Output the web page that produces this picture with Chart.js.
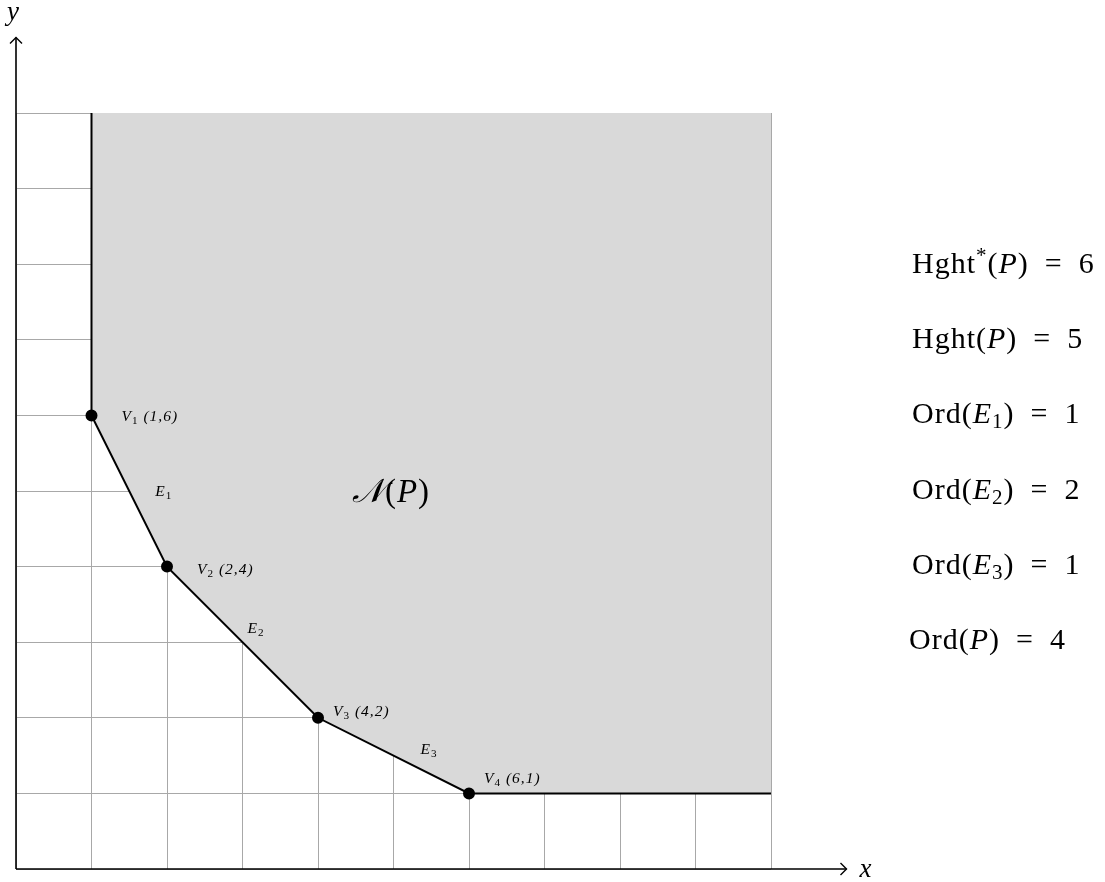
<!DOCTYPE html>
<html>
<head>
<meta charset="utf-8">
<script src="https://cdn.jsdelivr.net/npm/chart.js@4.4.1/dist/chart.umd.min.js"></script>
<style>
  html, body { margin: 0; padding: 0; background: #fff; }
  #wrap { width: 1105px; height: 882px; }
</style>
</head>
<body>
<div id="wrap"><canvas id="newton"></canvas></div>
<script>
// Newton polygon data
const boundaryX = [1, 1, 2, 4, 6, 10];
const boundaryY = [10, 6, 4, 2, 1, 1];
const vertexX = [1, 2, 4, 6];
const vertexY = [6, 4, 2, 1];
const vertexIdx = ['1', '2', '3', '4'];
const edgeIdx = ['1', '2', '3'];
const gridTicks = [0, 1, 2, 3, 4, 5, 6, 7, 8, 9, 10];
const axisEnd = 11;

const statLeft = ['Hght', 'Hght', 'Ord', 'Ord', 'Ord', 'Ord'];
const statStar = [true, false, false, false, false, false];
const statArg = ['P', 'P', 'E', 'E', 'E', 'P'];
const statSub = ['', '', '1', '2', '3', ''];
const statValue = [6, 5, 1, 2, 1, 4];

const SERIF = '"Liberation Serif", "DejaVu Serif", serif';

// draws a run of text pieces; each piece: [text, style, sizeScale, dy]
function drawRun(ctx, x, y, pieces, size, spacing) {
  let cx = x;
  ctx.letterSpacing = (spacing || 0) + 'px';
  pieces.forEach(([t, style, scale, dy]) => {
    ctx.font = `${style || 'normal'} ${size * (scale || 1)}px ${SERIF}`;
    ctx.fillText(t, cx, y + (dy || 0));
    cx += ctx.measureText(t).width;
  });
  ctx.letterSpacing = '0px';
  return cx;
}

const annotations = {
  id: 'annotations',
  afterDatasetsDraw(chart) {
    const { ctx, scales: { x, y } } = chart;
    ctx.save();
    ctx.fillStyle = '#000';
    ctx.strokeStyle = '#000';
    ctx.textBaseline = 'alphabetic';

    // axes with arrows
    const x0 = x.getPixelForValue(0), y0 = y.getPixelForValue(0);
    const xe = x.getPixelForValue(axisEnd), ye = y.getPixelForValue(axisEnd);
    ctx.lineWidth = 1.6;
    ctx.beginPath();
    ctx.moveTo(x0, y0); ctx.lineTo(xe, y0);
    ctx.moveTo(x0, y0); ctx.lineTo(x0, ye);
    ctx.stroke();
    ctx.lineWidth = 1.4;
    ctx.beginPath();
    ctx.moveTo(xe - 6, y0 - 6); ctx.lineTo(xe, y0); ctx.lineTo(xe - 6, y0 + 6);
    ctx.moveTo(x0 - 6, ye + 6); ctx.lineTo(x0, ye); ctx.lineTo(x0 + 6, ye + 6);
    ctx.stroke();
    drawRun(ctx, xe + 13, y0 + 8, [['x', 'italic']], 27);
    drawRun(ctx, x0 - 9, ye - 17, [['y', 'italic']], 27);

    // vertex labels
    const vOff = [[30, 6], [30, 7], [15, -2], [15, -10]];
    vertexX.forEach((vx, i) => {
      const px = x.getPixelForValue(vx) + vOff[i][0];
      const py = y.getPixelForValue(vertexY[i]) + vOff[i][1];
      drawRun(ctx, px, py, [
        ['V', 'italic'], [vertexIdx[i], 'normal', 0.72, 3],
        [' (' + vx + ',' + vertexY[i] + ')', 'italic']
      ], 15.5, 1);
    });

    // edge labels at segment midpoints
    const eOff = [[26, 5], [5, -9], [27, -2]];
    edgeIdx.forEach((e, i) => {
      const mx = (vertexX[i] + vertexX[i + 1]) / 2;
      const my = (vertexY[i] + vertexY[i + 1]) / 2;
      const px = x.getPixelForValue(mx) + eOff[i][0];
      const py = y.getPixelForValue(my) + eOff[i][1];
      drawRun(ctx, px, py, [['E', 'italic'], [e, 'normal', 0.72, 3]], 15.5, 1);
    });

    // N(P) label
    drawRun(ctx, x.getPixelForValue(4.45), y.getPixelForValue(4.85), [
      ['\u{1D4A9}', 'italic'], ['(', 'normal'], ['P', 'italic'], [')', 'normal']
    ], 33, 1);

    // statistics on the right
    statLeft.forEach((name, i) => {
      const sx = i === 5 ? 909 : 912;
      const sy = 273 + i * 75.2;
      const pieces = [[name, 'normal']];
      if (statStar[i]) pieces.push(['*', 'normal', 0.7, -11]);
      pieces.push(['(', 'normal'], [statArg[i], 'italic']);
      if (statSub[i]) pieces.push([statSub[i], 'normal', 0.7, 5]);
      pieces.push([')\u2002=\u2002' + statValue[i], 'normal']);
      drawRun(ctx, sx, sy, pieces, 30, 1);
    });
    ctx.restore();
  }
};

new Chart(document.getElementById('newton'), {
  type: 'scatter',
  data: {
    datasets: [{
      label: 'Newton polygon',
      data: boundaryX.map((bx, i) => ({ x: bx, y: boundaryY[i] })),
      showLine: true,
      borderColor: '#000',
      borderWidth: 2,
      backgroundColor: '#d9d9d9',
      fill: 'end',
      tension: 0,
      pointRadius: boundaryX.map((bx, i) => vertexX.some((vx, j) => vx === bx && vertexY[j] === boundaryY[i]) ? 5 : 0),
      pointBackgroundColor: '#000',
      pointBorderColor: '#000',
      pointHoverRadius: 5
    }]
  },
  options: {
    responsive: true,
    maintainAspectRatio: false,
    animation: false,
    layout: { padding: { left: 16, right: 334, top: 113, bottom: 13 } },
    plugins: {
      legend: { display: false },
      tooltip: { enabled: false }
    },
    scales: {
      x: {
        type: 'linear', min: 0, max: 10,
        afterBuildTicks: (s) => { s.ticks = gridTicks.map(v => ({ value: v })); },
        ticks: { display: false },
        grid: { color: '#a8a8a8', lineWidth: 1, drawTicks: false },
        border: { display: false }
      },
      y: {
        type: 'linear', min: 0, max: 10,
        afterBuildTicks: (s) => { s.ticks = gridTicks.map(v => ({ value: v })); },
        ticks: { display: false },
        grid: { color: '#a8a8a8', lineWidth: 1, drawTicks: false },
        border: { display: false }
      }
    }
  },
  plugins: [annotations]
});
</script>
</body>
</html>
